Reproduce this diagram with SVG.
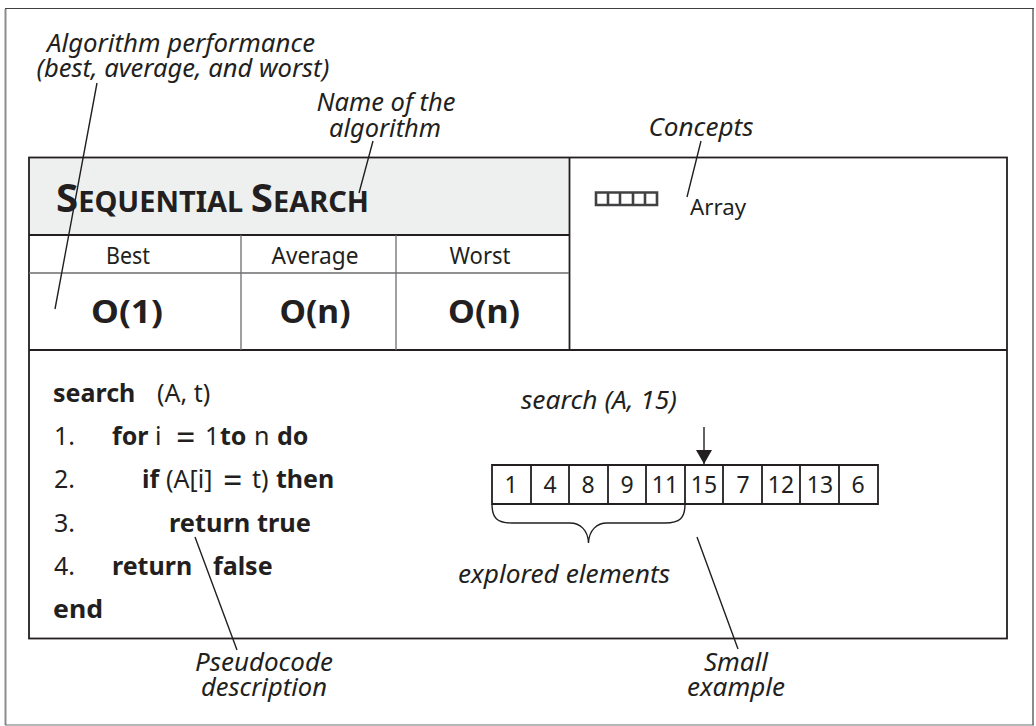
<svg xmlns="http://www.w3.org/2000/svg" width="1036" height="726" viewBox="0 0 1036 726">
<style>
text{font-family:"Noto Sans","Open Sans","Liberation Sans",sans-serif;fill:#231f20}
.note{font-size:25px;font-style:italic;text-anchor:middle}
.reg{font-size:23px;text-anchor:middle}
.big{font-size:32px;font-weight:700;text-anchor:middle}
.code{font-size:25px}
.b{font-weight:700}
.eq{font-size:34px}
.cell{font-size:23px;text-anchor:middle}
.line{fill:none;stroke:#231f20;stroke-width:1.4}
.grey{fill:none;stroke:#6d6e71;stroke-width:1.3}
.box{fill:none;stroke:#231f20;stroke-width:1.8}
</style>
<defs><marker id="arrow" markerUnits="userSpaceOnUse" markerWidth="16" markerHeight="16" refX="14" refY="8" orient="auto"><path d="M0 0L14 8L0 16Z" fill="#231f20"/></marker></defs>
<rect width="1036" height="726" fill="#fff"/>
<path d="M5.500 9V725M1033 9V725" fill="none" stroke="#8a8c8e" stroke-width="2"/>
<path d="M5 8.500H1034" fill="none" stroke="#414042" stroke-width="1"/>
<path d="M5 725H1034" fill="none" stroke="#6d6e71" stroke-width="1"/>
<g id="title"><rect x="29" y="157" width="540" height="78" fill="#eef0ef"/>
<text x="56" y="212" font-size="39" font-weight="700" textLength="313" lengthAdjust="spacingAndGlyphs">S<tspan font-size="28">EQUENTIAL </tspan>S<tspan font-size="28">EARCH</tspan></text></g>
<g id="frame"><rect class="box" x="29" y="157.500" width="978" height="481"/>
<path class="box" d="M29 350H1007M569.500 157V350M29 235H569"/>
<path class="grey" d="M241 235V350M396 235V350M29 273H569"/></g>
<g id="performance">
<text class="reg" x="128" y="264" textLength="44" lengthAdjust="spacingAndGlyphs">Best</text>
<text class="reg" x="315" y="264" textLength="87" lengthAdjust="spacingAndGlyphs">Average</text>
<text class="reg" x="480" y="264" textLength="61" lengthAdjust="spacingAndGlyphs">Worst</text>
<text class="big" x="127" y="323" textLength="72" lengthAdjust="spacingAndGlyphs">O(1)</text>
<text class="big" x="315" y="323" textLength="71" lengthAdjust="spacingAndGlyphs">O(n)</text>
<text class="big" x="484" y="323" textLength="72" lengthAdjust="spacingAndGlyphs">O(n)</text></g>
<g id="concepts">
<path stroke="#414042" stroke-width="2.600" fill="none" d="M596 192.500H657V205H596ZM608 192.500V205M620 192.500V205M633 192.500V205M645 192.500V205"/>
<text x="690" y="215" font-size="21.500" textLength="56" lengthAdjust="spacingAndGlyphs">Array</text></g>
<g id="pseudocode">
<text y="402" class="code"><tspan x="53" class="b">search </tspan><tspan x="157">(A, t)</tspan></text>
<text x="54" y="445" class="code">1.</text>
<text y="445" class="code"><tspan x="112" class="b">for </tspan><tspan x="155">i </tspan><tspan x="176" y="450" class="eq">= </tspan><tspan x="205" y="445">1 </tspan><tspan x="220" class="b">to </tspan><tspan x="254">n </tspan><tspan x="277" class="b">do</tspan></text>
<text x="54" y="488" class="code">2.</text>
<text y="488" class="code"><tspan x="142" class="b">if </tspan><tspan x="166">(A[i] </tspan><tspan x="223" y="493" class="eq">= </tspan><tspan x="252" y="488">t) </tspan><tspan x="276" class="b">then</tspan></text>
<text x="54" y="532" class="code">3.</text><text x="169" y="532" class="code b" textLength="142" lengthAdjust="spacingAndGlyphs">return true</text>
<text x="54" y="575" class="code">4.</text>
<text y="575" class="code b"><tspan x="112">return </tspan><tspan x="213">false</tspan></text>
<text x="53" y="618" class="code b" textLength="50" lengthAdjust="spacingAndGlyphs">end</text></g>
<g id="example">
<text class="note" x="599" y="409" textLength="156" lengthAdjust="spacingAndGlyphs">search (A, 15)</text>
<path class="box" d="M492 465H878V504H492ZM531 465V504M569 465V504M608 465V504M646 465V504M685 465V504M723 465V504M762 465V504M800 465V504M839 465V504"/>
<g><text class="cell" x="511" y="493">1</text><text class="cell" x="550" y="493">4</text><text class="cell" x="588" y="493">8</text><text class="cell" x="627" y="493">9</text><text class="cell" x="665" y="493">11</text><text class="cell" x="704" y="493">15</text><text class="cell" x="743" y="493">7</text><text class="cell" x="781" y="493">12</text><text class="cell" x="820" y="493">13</text><text class="cell" x="858" y="493">6</text></g>
<path class="line" d="M492 504C492 518 497 523 512 523H570C580 523 588 530 588.500 543C589 530 597 523 607 523H665C680 523 685 518 685 504"/>
<text class="note" x="564" y="583" textLength="212" lengthAdjust="spacingAndGlyphs">explored elements</text></g>
<g id="connectors">
<path class="line" d="M704 427V464" marker-end="url(#arrow)"/>
<path class="line" d="M97 83L55 309M373 141L359 193M701 141L687 197M195 537L237 650M697 537L738 649"/>
</g>
<g id="labels">
<text class="note" x="181" y="52" textLength="268" lengthAdjust="spacingAndGlyphs">Algorithm performance</text>
<text class="note" x="183" y="77" textLength="293" lengthAdjust="spacingAndGlyphs">(best, average, and worst)</text>
<text class="note" x="386" y="111" textLength="139" lengthAdjust="spacingAndGlyphs">Name of the</text>
<text class="note" x="385" y="137" textLength="112" lengthAdjust="spacingAndGlyphs">algorithm</text>
<text class="note" x="701" y="136" textLength="105" lengthAdjust="spacingAndGlyphs">Concepts</text>
<text class="note" x="264" y="671" textLength="138" lengthAdjust="spacingAndGlyphs">Pseudocode</text>
<text class="note" x="264" y="696" textLength="126" lengthAdjust="spacingAndGlyphs">description</text>
<text class="note" x="736" y="671" textLength="64" lengthAdjust="spacingAndGlyphs">Small</text>
<text class="note" x="736" y="696" textLength="98" lengthAdjust="spacingAndGlyphs">example</text>
</g>
</svg>
